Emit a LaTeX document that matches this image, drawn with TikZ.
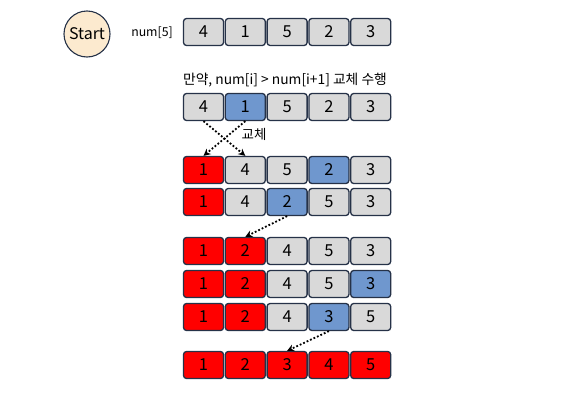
\documentclass[tikz,border=0pt]{standalone}
\usepackage{fontspec}
\setmainfont{Noto Sans CJK KR}
\usetikzlibrary{arrows.meta, positioning}

\definecolor{edge}{RGB}{38,50,72}
\definecolor{cellgray}{RGB}{217,217,217}
\definecolor{cellblue}{RGB}{111,151,206}
\definecolor{startfill}{RGB}{252,234,207}

\tikzset{
	cell/.style={draw=edge, line width=1.3pt, rounded corners=3pt, minimum width=40pt, minimum height=27pt, inner sep=0pt, font=\fontsize{16.5}{16.5}\selectfont},
	swap/.style={-{Stealth[length=7pt,width=7pt]}, line width=1.8pt, dotted}
}

\begin{document}
\begin{tikzpicture}[x=1pt, y=-1pt]
		\useasboundingbox[fill=white] (0,0) rectangle (573,407);
		\node[circle, draw=edge, fill=startfill, line width=1.1pt, minimum size=46pt, inner sep=0pt, font=\fontsize{16}{16}\selectfont] at (87,34) (start) {Start};
		\node[font=\fontsize{12.3}{12.3}\selectfont] at (152,33) (arr) {num[5]};
		\node[font=\fontsize{13.8}{13.8}\selectfont] at (285,80) (cond) {만약, num[i] > num[i+1] 교체 수행};
		% rows of the array
		\foreach \row/\y/\cells in {
				a/32/{4/cellgray,1/cellgray,5/cellgray,2/cellgray,3/cellgray},
				b/107/{4/cellgray,1/cellblue,5/cellgray,2/cellgray,3/cellgray},
				c/170/{1/red,4/cellgray,5/cellgray,2/cellblue,3/cellgray},
				d/202/{1/red,4/cellgray,2/cellblue,5/cellgray,3/cellgray},
				e/251/{1/red,2/red,4/cellgray,5/cellgray,3/cellgray},
				f/284/{1/red,2/red,4/cellgray,5/cellgray,3/cellblue},
				g/317/{1/red,2/red,4/cellgray,3/cellblue,5/cellgray},
				h/365/{1/red,2/red,3/red,4/red,5/red}}
			\foreach \v/\c [count=\i] in \cells
				\node[cell, fill=\c] at ({161.7+41.8*\i}, \y) (\row\i) {\v};
		\node[font=\fontsize{13.5}{13.5}\selectfont] at (254,134) (swp) {교체};
		\foreach \from/\to in {b1/c2,b2/c1,d3/e2,g4/h3}
			\draw[swap] (\from.south) -- (\to.north);
	\end{tikzpicture}
\end{document}
